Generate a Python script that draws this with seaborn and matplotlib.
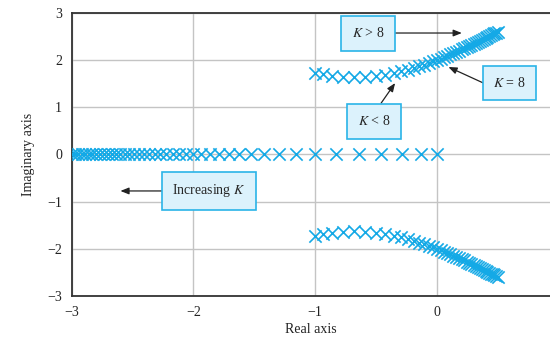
import numpy as np
import pandas as pd
import matplotlib.pyplot as plt
import seaborn as sns

# root locus points (one point per gain step)
real_branch = [0.0, -0.133, -0.285, -0.456, -0.639, -0.825, -1.0, -1.156, -1.295,
               -1.417, -1.525, -1.622, -1.711, -1.792, -1.865, -1.934, -2.0, -2.059,
               -2.117, -2.171, -2.223, -2.272, -2.319, -2.364, -2.408, -2.449, -2.490,
               -2.528, -2.566, -2.603, -2.638, -2.672, -2.706, -2.738, -2.770, -2.802,
               -2.831, -2.861, -2.890, -2.918, -2.945, -2.973, -3.0]
cplx_re = [-1.0, -0.934, -0.858, -0.772, -0.681, -0.588, -0.5, -0.422, -0.353,
           -0.292, -0.238, -0.189, -0.145, -0.104, -0.068, -0.033, 0.0, 0.030,
           0.059, 0.086, 0.112, 0.136, 0.160, 0.182, 0.204, 0.225, 0.245,
           0.264, 0.283, 0.302, 0.319, 0.336, 0.353, 0.369, 0.385, 0.401,
           0.416, 0.431, 0.445, 0.459, 0.473, 0.487, 0.5]
cplx_im = [1.732, 1.697, 1.666, 1.643, 1.633, 1.639, 1.658, 1.687, 1.721,
           1.758, 1.794, 1.831, 1.867, 1.902, 1.935, 1.968, 2.0, 2.030,
           2.060, 2.089, 2.117, 2.145, 2.171, 2.197, 2.223, 2.247, 2.272,
           2.295, 2.318, 2.341, 2.362, 2.384, 2.405, 2.426, 2.446, 2.467,
           2.486, 2.506, 2.525, 2.543, 2.561, 2.580, 2.598]

df = pd.concat([
    pd.DataFrame({"re": real_branch, "im": [0.0] * len(real_branch)}),
    pd.DataFrame({"re": cplx_re, "im": cplx_im}),
    pd.DataFrame({"re": cplx_re, "im": [-v for v in cplx_im]}),
], ignore_index=True)

sns.set_style("white")
plt.rcParams["font.family"] = ["Liberation Serif", "DejaVu Serif"]
plt.rcParams["mathtext.fontset"] = "stix"

fig = plt.figure(figsize=(5.5, 3.39), dpi=100)
ax = fig.add_axes([0.1304, 0.1268, 0.8697, 0.8357])

blue = "#14a9e6"
sns.scatterplot(data=df, x="re", y="im", marker="x", s=78, color=blue,
                linewidth=1.2, ax=ax, zorder=3)

ax.set_xlim(-3, 0.93)
ax.set_ylim(-3, 3)
ax.set_xticks([-3, -2, -1, 0])
ax.set_yticks([-3, -2, -1, 0, 1, 2, 3])
ax.set_xticklabels(["\u22123", "\u22122", "\u22121", "0"])
ax.set_yticklabels(["\u22123", "\u22122", "\u22121", "0", "1", "2", "3"])
ax.grid(True, color="#c4c4c4", linewidth=1.0)
ax.tick_params(length=0, labelsize=10, colors="#222222", pad=7)
for side in ["left", "bottom", "top"]:
    ax.spines[side].set_color("#333333")
    ax.spines[side].set_linewidth(1.3)
ax.spines["right"].set_visible(False)

ax.set_xlabel("Real axis", fontsize=10, color="#222222", labelpad=3)
ax.set_ylabel("Imaginary axis", fontsize=10, color="#222222", labelpad=9)

box = dict(boxstyle="square,pad=0.75", facecolor="#dcf2fc", edgecolor="#2ab4e8", linewidth=1.2)
arrow = dict(arrowstyle="-|>,head_length=0.5,head_width=0.2", color="#222222", lw=0.9,
             shrinkA=0, shrinkB=0)

ax.annotate("", xy=(0.205, 2.57), xytext=(-0.35, 2.57), arrowprops=arrow, zorder=5)
ax.text(-0.565, 2.56, "$K$ > 8", ha="center", va="center", fontsize=10, bbox=box, zorder=6)

ax.annotate("", xy=(0.095, 1.85), xytext=(0.383, 1.51), arrowprops=arrow, zorder=5)
ax.text(0.598, 1.51, "$K$ = 8", ha="center", va="center", fontsize=10, bbox=box, zorder=6)

ax.annotate("", xy=(-0.343, 1.51), xytext=(-0.458, 1.085), arrowprops=arrow, zorder=5)
ax.text(-0.517, 0.70, "$K$ < 8", ha="center", va="center", fontsize=10, bbox=box, zorder=6)

ax.annotate("", xy=(-2.60, -0.775), xytext=(-2.25, -0.775), arrowprops=arrow, zorder=5)
ax.text(-1.875, -0.77, "Increasing $K$", ha="center", va="center", fontsize=10, bbox=box, zorder=6)

fig.savefig("out.png", dpi=100)
